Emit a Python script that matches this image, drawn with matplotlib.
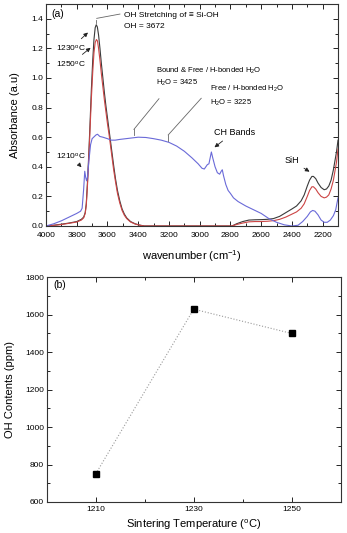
import matplotlib
matplotlib.use("Agg")
import matplotlib.pyplot as plt
from matplotlib.ticker import MultipleLocator

plt.rcParams['font.family'] = ['Liberation Sans', 'DejaVu Sans']
plt.rcParams['mathtext.default'] = 'regular'

# ---- (a) FTIR spectra ----
wn_1210 = [4000, 3950, 3900, 3850, 3800, 3775, 3765, 3755, 3748, 3742, 3736, 3730,
           3720, 3710, 3700, 3690, 3675, 3665, 3650, 3630, 3600, 3575, 3550, 3520,
           3480, 3440, 3400, 3350, 3300, 3250, 3200, 3150, 3100, 3050, 3010, 2985,
           2970, 2960, 2950, 2940, 2930, 2924, 2915, 2900, 2885, 2870, 2860, 2853,
           2845, 2830, 2815, 2800, 2780, 2750, 2700, 2650, 2600, 2550, 2500, 2450,
           2400, 2360, 2330, 2300, 2280, 2265, 2250, 2230, 2210, 2190, 2170, 2150,
           2130, 2115, 2100]
abs_1210 = [0.0, 0.015, 0.035, 0.06, 0.085, 0.10, 0.12, 0.25, 0.37, 0.33, 0.305, 0.33,
            0.45, 0.55, 0.59, 0.60, 0.615, 0.62, 0.605, 0.60, 0.59, 0.58, 0.58, 0.585,
            0.59, 0.595, 0.60, 0.598, 0.59, 0.58, 0.565, 0.54, 0.505, 0.46, 0.42, 0.39,
            0.385, 0.40, 0.415, 0.42, 0.47, 0.50, 0.46, 0.40, 0.36, 0.35, 0.37, 0.38,
            0.34, 0.28, 0.24, 0.22, 0.19, 0.165, 0.135, 0.11, 0.085, 0.05, 0.025, 0.008,
            0.0, 0.005, 0.03, 0.065, 0.095, 0.105, 0.10, 0.075, 0.04, 0.025, 0.025, 0.04,
            0.07, 0.11, 0.19]

wn_1230 = [4000, 3950, 3900, 3850, 3800, 3770, 3755, 3745, 3738, 3730, 3722, 3714,
           3705, 3696, 3688, 3680, 3673, 3666, 3658, 3649, 3640, 3630, 3620, 3610,
           3600, 3590, 3580, 3570, 3560, 3548, 3535, 3520, 3505, 3490, 3475, 3450,
           3420, 3390, 3360, 2790, 2760, 2720, 2680, 2640, 2600, 2560, 2520, 2480,
           2440, 2400, 2370, 2340, 2320, 2300, 2285, 2270, 2260, 2245, 2230, 2210,
           2190, 2175, 2160, 2145, 2130, 2120, 2110, 2100]
abs_1230 = [0.0, 0.005, 0.012, 0.02, 0.03, 0.045, 0.06, 0.09, 0.15, 0.30, 0.48, 0.68,
            0.92, 1.12, 1.26, 1.34, 1.36, 1.345, 1.29, 1.20, 1.10, 1.0, 0.90, 0.81,
            0.73, 0.65, 0.57, 0.49, 0.41, 0.32, 0.24, 0.17, 0.115, 0.08, 0.055, 0.03,
            0.015, 0.006, 0.0, 0.0, 0.015, 0.03, 0.04, 0.042, 0.043, 0.045, 0.05, 0.065,
            0.09, 0.115, 0.135, 0.17, 0.21, 0.27, 0.31, 0.335, 0.335, 0.32, 0.29, 0.26,
            0.245, 0.25, 0.27, 0.31, 0.38, 0.44, 0.50, 0.58]

wn_1250 = [4000, 3950, 3900, 3850, 3800, 3770, 3755, 3745, 3738, 3730, 3722, 3714,
           3705, 3696, 3688, 3680, 3672, 3665, 3658, 3649, 3640, 3630, 3620, 3610,
           3600, 3590, 3580, 3570, 3560, 3548, 3535, 3520, 3505, 3490, 3475, 3450,
           3420, 3390, 3360, 2790, 2760, 2720, 2680, 2640, 2600, 2560, 2520, 2480,
           2440, 2400, 2370, 2340, 2320, 2300, 2285, 2270, 2260, 2245, 2230, 2210,
           2190, 2175, 2160, 2145, 2130, 2120, 2110, 2100]
abs_1250 = [0.0, 0.004, 0.01, 0.018, 0.027, 0.04, 0.055, 0.085, 0.14, 0.28, 0.45, 0.64,
            0.86, 1.04, 1.17, 1.24, 1.26, 1.25, 1.20, 1.12, 1.03, 0.94, 0.85, 0.77,
            0.69, 0.62, 0.54, 0.46, 0.38, 0.30, 0.22, 0.155, 0.105, 0.072, 0.05, 0.027,
            0.013, 0.005, 0.0, 0.0, 0.01, 0.02, 0.028, 0.03, 0.03, 0.032, 0.036, 0.045,
            0.06, 0.08, 0.095, 0.12, 0.15, 0.20, 0.24, 0.265, 0.265, 0.25, 0.225, 0.20,
            0.19, 0.195, 0.21, 0.25, 0.31, 0.37, 0.43, 0.52]

# ---- (b) OH content vs sintering temperature ----
temps = [1210, 1230, 1250]
oh_ppm = [750, 1630, 1500]

fig = plt.figure(figsize=(3.47, 5.33), dpi=100)
ax1 = fig.add_axes([0.1326, 0.576, 0.8415, 0.4165])
ax2 = fig.add_axes([0.1346, 0.0582, 0.8473, 0.4215])

ax1.plot(wn_1230, abs_1230, color='#3a3a3a', lw=0.8)
ax1.plot(wn_1250, abs_1250, color='#cc4444', lw=0.8)
ax1.plot(wn_1210, abs_1210, color='#6a6ad8', lw=0.8)

ax1.set_xlim(4000, 2100)
ax1.set_ylim(0, 1.5)
ax1.xaxis.set_major_locator(MultipleLocator(200))
ax1.xaxis.set_minor_locator(MultipleLocator(100))
ax1.yaxis.set_minor_locator(MultipleLocator(0.1))
ax1.set_yticks([0.0, 0.2, 0.4, 0.6, 0.8, 1.0, 1.2, 1.4])
ax1.set_yticklabels(['0.0', '0.2', '0.4', '0.6', '0.8', '1.0', '1.2', '1.4'])
ax1.set_xlabel('wavenumber (cm$^{-1}$)', fontsize=8, labelpad=7)
ax1.set_ylabel('Absorbance (a.u)', fontsize=8, labelpad=8)

afs = 6
ax1.text(3963, 1.43, '(a)', fontsize=7.5, va='center')
ax1.plot([3675, 3675], [1.373, 1.392], color='#666666', lw=0.6)
ax1.plot([3670, 3519], [1.403, 1.432], color='#666666', lw=0.6)
ax1.text(3490, 1.425, 'OH Stretching of \u2261 Si-OH', fontsize=afs, va='center')
ax1.text(3490, 1.35, 'OH = 3672', fontsize=afs, va='center')

arrow = dict(arrowstyle='-|>', color='#222222', lw=0.6, mutation_scale=6)
ax1.annotate('1230$^{o}$C', xy=(3714, 1.32), xytext=(3935, 1.2), fontsize=afs,
             va='center', arrowprops=arrow)
ax1.annotate('1250$^{o}$C', xy=(3696, 1.216), xytext=(3937, 1.095), fontsize=afs,
             va='center', arrowprops=arrow)
ax1.annotate('1210$^{o}$C', xy=(3757, 0.383), xytext=(3935, 0.475), fontsize=afs,
             va='center', arrowprops=arrow)

ax1.plot([3428, 3428], [0.615, 0.653], color='#666666', lw=0.6)
ax1.plot([3428, 3265], [0.653, 0.86], color='#666666', lw=0.6)
ax1.text(3285, 1.047, 'Bound & Free / H-bonded H$_2$O', fontsize=afs - 0.5, va='center')
ax1.text(3285, 0.965, 'H$_2$O = 3425', fontsize=afs - 0.5, va='center')

ax1.plot([3205, 3205], [0.576, 0.615], color='#666666', lw=0.6)
ax1.plot([3205, 2990], [0.615, 0.863], color='#666666', lw=0.6)
ax1.text(2935, 0.926, 'Free / H-bonded H$_2$O', fontsize=afs - 0.5, va='center')
ax1.text(2935, 0.833, 'H$_2$O = 3225', fontsize=afs - 0.5, va='center')

ax1.annotate('CH Bands', xy=(2918, 0.52), xytext=(2910, 0.635), fontsize=afs + 0.5,
             va='center', arrowprops=arrow)
ax1.annotate('SiH', xy=(2270, 0.357), xytext=(2450, 0.443), fontsize=afs + 0.5,
             va='center', arrowprops=arrow)

ax2.plot(temps, oh_ppm, color='#9a9a9a', lw=0.8, ls=':', marker='s',
         markersize=4, markerfacecolor='black', markeredgecolor='black')
ax2.set_xlim(1200, 1260)
ax2.set_ylim(600, 1800)
ax2.set_xticks(temps)
ax2.set_xticks([1220, 1240], minor=True)
ax2.yaxis.set_major_locator(MultipleLocator(200))
ax2.yaxis.set_minor_locator(MultipleLocator(100))
ax2.set_xlabel('Sintering Temperature ($^{o}$C)', fontsize=8, labelpad=3)
ax2.set_ylabel('OH Contents (ppm)', fontsize=8, labelpad=7)
ax2.text(1201.3, 1760, '(b)', fontsize=7.5, va='center')

for ax in (ax1, ax2):
    ax.tick_params(which='both', direction='in', top=True, right=True,
                   labelsize=6, width=0.6)
    ax.tick_params(which='major', length=3.5)
    ax.tick_params(which='minor', length=2)
    ax.tick_params(axis='y', pad=2)
    for s in ax.spines.values():
        s.set_linewidth(0.8)
        s.set_color('#333333')
ax1.tick_params(axis='x', pad=4)
ax2.tick_params(axis='x', pad=3)

fig.savefig('out.png', dpi=100)
